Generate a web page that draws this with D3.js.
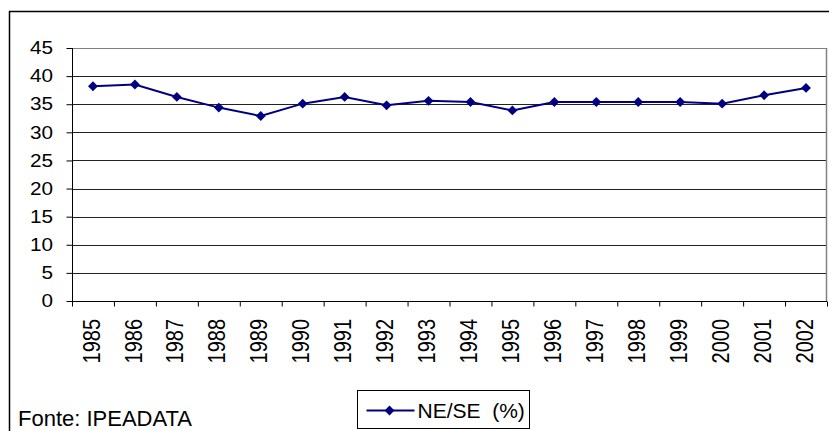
<!DOCTYPE html>
<html>
<head>
<meta charset="utf-8">
<script src="https://cdn.jsdelivr.net/npm/d3@7"></script>
<style>
  body { margin: 0; background: #fff; }
  text { font-family: "Liberation Sans", Arial, sans-serif; }
</style>
</head>
<body>
<svg id="grafico"></svg>
<script>
// dados
const anos = ["1985", "1986", "1987", "1988", "1989", "1990", "1991", "1992", "1993",
    "1994", "1995", "1996", "1997", "1998", "1999", "2000", "2001", "2002"];
const neSe = [38.2, 38.5, 36.3, 34.4, 32.9, 35.1, 36.3, 34.8, 35.6,
    35.4, 33.9, 35.4, 35.4, 35.4, 35.4, 35.1, 36.6, 37.9];
const ticksY = [0, 5, 10, 15, 20, 25, 30, 35, 40, 45];
const nomeSerie = "NE/SE  (%)";
const fonte = "Fonte: IPEADATA";

const WIDTH = 829;
const HEIGHT = 431;
const margins = { top: 48, bottom: 130, left: 72, right: 2 };
const widthVis = WIDTH - margins.left - margins.right;
const heightVis = HEIGHT - margins.top - margins.bottom;
const familia = "'Liberation Sans', Arial, sans-serif";

const svg = d3.select("#grafico")
    .attr("width", WIDTH)
    .attr("height", HEIGHT);

// moldura externa do gráfico
svg.append("rect")
    .attr("x", 9.5).attr("y", 11.5)
    .attr("width", 830).attr("height", 440)
    .attr("fill", "none")
    .attr("stroke", "#000")
    .attr("stroke-width", 1.5);

const g = svg.append("g")
    .attr("transform", `translate(${margins.left},${margins.top})`);

const escalaX = d3.scaleBand().domain(anos).range([0, widthVis]);
const escalaBordas = d3.scaleLinear().domain([0, anos.length]).range([0, widthVis]);
const escalaY = d3.scaleLinear().domain([0, 45]).range([heightVis, 0]);

// linhas de grade
g.append("g")
    .selectAll("line")
    .data(ticksY.filter(d => d > 0))
    .join("line")
    .attr("x1", 0).attr("x2", widthVis)
    .attr("y1", d => Math.round(escalaY(d)) + 0.5)
    .attr("y2", d => Math.round(escalaY(d)) + 0.5)
    .attr("stroke", d => d === 45 ? "#808080" : "#222")
    .attr("stroke-width", 1);

// borda direita da área de plotagem
g.append("line")
    .attr("x1", widthVis - 0.5).attr("x2", widthVis - 0.5)
    .attr("y1", 0).attr("y2", heightVis)
    .attr("stroke", "#808080").attr("stroke-width", 1.5);

// eixo Y (o texto do original é um pouco esticado na horizontal)
const ejeY = g.append("g")
    .attr("transform", "translate(0.5,0)")
    .call(d3.axisLeft(escalaY).tickValues(ticksY).tickSize(6));
ejeY.selectAll("text")
    .attr("font-size", 18).attr("fill", "#000")
    .style("font-family", familia)
    .attr("x", 0)
    .attr("text-anchor", "end")
    .attr("transform", "translate(-19.5,0) scale(1.15,1)");
ejeY.selectAll("line, path").attr("stroke", "#000");
ejeY.select("path").attr("d", `M0,${heightVis}V0`);

// eixo X: marcas entre categorias
const ejeXMarcas = g.append("g")
    .attr("transform", `translate(0,${heightVis + 0.5})`)
    .call(d3.axisBottom(escalaBordas).tickValues(d3.range(anos.length + 1)).tickSize(5).tickFormat(""));
ejeXMarcas.selectAll("line, path").attr("stroke", "#000");
ejeXMarcas.select("path").attr("d", `M0,0H${widthVis}`);

// eixo X: rótulos dos anos
const ejeX = g.append("g")
    .attr("transform", `translate(0,${heightVis})`)
    .call(d3.axisBottom(escalaX).tickSize(0));
ejeX.select("path").remove();
ejeX.selectAll("text")
    .attr("font-size", 20)
    .attr("fill", "#000")
    .style("font-family", familia)
    .attr("transform", "scale(1.18,1) rotate(-90)")
    .attr("text-anchor", "end")
    .attr("dy", "0.33em")
    .attr("x", -18)
    .attr("y", -1);

// linha da série
const linha = d3.line()
    .x((d, i) => escalaX(anos[i]) + escalaX.bandwidth() / 2)
    .y(d => escalaY(d));

g.append("path")
    .datum(neSe)
    .attr("d", linha)
    .attr("fill", "none")
    .attr("stroke", "#000080")
    .attr("stroke-width", 2);

const diamante = d3.symbol().type(d3.symbolDiamond2).size(62);
g.selectAll(".marca")
    .data(neSe)
    .join("path")
    .attr("class", "marca")
    .attr("d", diamante)
    .attr("transform", (d, i) => `translate(${escalaX(anos[i]) + escalaX.bandwidth() / 2},${escalaY(d)})`)
    .attr("fill", "#000080");

// legenda
const legenda = svg.append("g").attr("transform", "translate(357.5,390.5)");
legenda.append("rect")
    .attr("width", 172).attr("height", 38)
    .attr("fill", "#fff").attr("stroke", "#000").attr("stroke-width", 1);
legenda.append("line")
    .attr("x1", 9).attr("x2", 57).attr("y1", 20).attr("y2", 20)
    .attr("stroke", "#000080").attr("stroke-width", 2);
legenda.append("path")
    .attr("d", diamante)
    .attr("transform", "translate(32,20)")
    .attr("fill", "#000080");
legenda.append("text")
    .attr("x", 60).attr("y", 27)
    .attr("font-size", 21)
    .style("white-space", "pre")
    .text(nomeSerie);

// fonte
svg.append("text")
    .attr("x", 18).attr("y", 426)
    .attr("font-size", 22)
    .text(fonte);
</script>
</body>
</html>
